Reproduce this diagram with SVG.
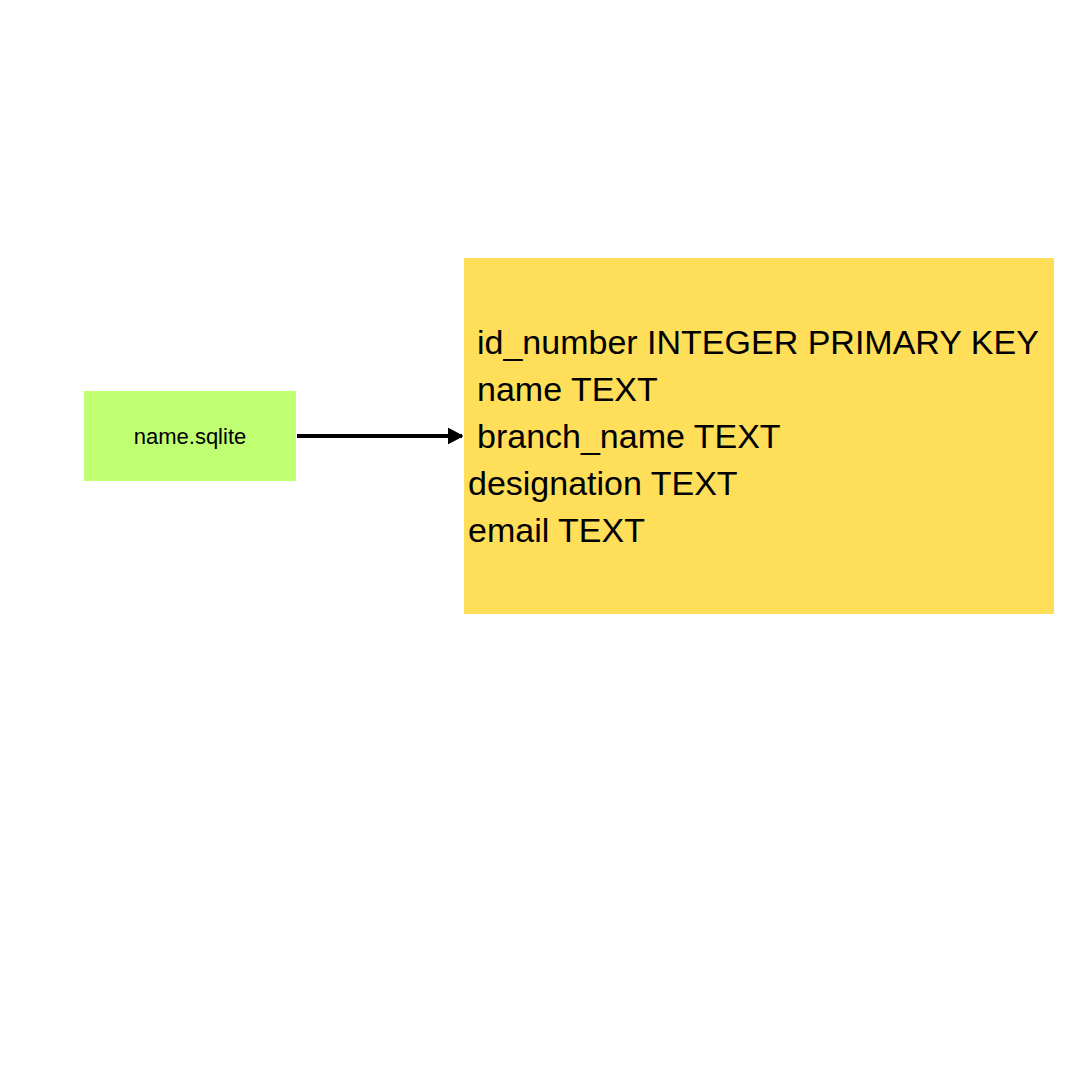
<svg xmlns="http://www.w3.org/2000/svg" width="1080" height="1080" viewBox="0 0 1080 1080">
<style>
.t{font-family:"Liberation Sans",Arial,sans-serif;fill:#000}
.f{font-size:34px}
</style>
<defs>
<marker id="ah" markerWidth="5" markerHeight="5" refX="3.4" refY="2.5" orient="auto" markerUnits="strokeWidth">
<path d="M0,0.7 L3.4,2.5 L0,4.3 Z" fill="#000" stroke="#000" stroke-width="0.4" stroke-linejoin="round"/>
</marker>
</defs>
<rect width="1080" height="1080" fill="#fff"/>
<g id="node-file">
<rect x="84" y="391" width="212" height="90" fill="#C1FF72"/>
<text class="t" x="190" y="444" font-size="22" text-anchor="middle">name.sqlite</text>
</g>
<g id="node-table">
<rect x="464" y="258" width="590" height="356" fill="#FFDE59"/>
<text class="t f" x="477" y="354">id_number INTEGER PRIMARY KEY</text>
<text class="t f" x="477" y="401">name TEXT</text>
<text class="t f" x="477" y="448">branch_name TEXT</text>
<text class="t f" x="468" y="495">designation TEXT</text>
<text class="t f" x="468" y="542">email TEXT</text>
</g>
<g id="connectors">
<line x1="297" y1="436" x2="462" y2="436" stroke="#000" stroke-width="4" marker-end="url(#ah)"/>
</g>
</svg>
